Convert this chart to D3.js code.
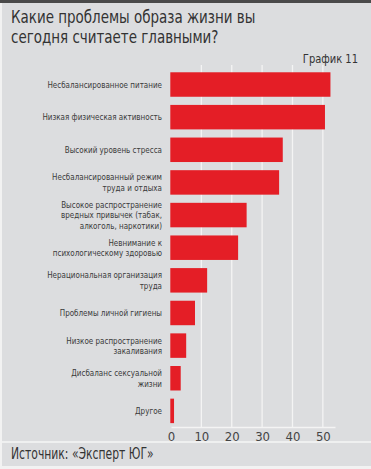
<!DOCTYPE html>
<html lang="ru">
<head>
<meta charset="utf-8" />
<title>График 11</title>
<style>
  body { margin: 0; background: #fff; }
  svg { display: block; }
  text { font-family: "DejaVu Sans Condensed", "Liberation Sans Narrow", "Roboto", sans-serif; }
</style>
</head>
<body>
<script src="https://cdn.jsdelivr.net/npm/d3@7"></script>
<div id="chart"></div>
<script>
    // data (share of answers, %)
    const categories = [
        ["Несбалансированное питание"],
        ["Низкая физическая активность"],
        ["Высокий уровень стресса"],
        ["Несбалансированный режим", "труда и отдыха"],
        ["Высокое распространение", "вредных привычек (табак,", "алкоголь, наркотики)"],
        ["Невнимание к", "психологическому здоровью"],
        ["Нерациональная организация", "труда"],
        ["Проблемы личной гигиены"],
        ["Низкое распространение", "закаливания"],
        ["Дисбаланс сексуальной", "жизни"],
        ["Другое"]
    ];
    const values = [52.5, 50.7, 36.8, 35.6, 24.9, 22.1, 11.9, 7.9, 5.0, 3.2, 1.0];
    const xTicks = [0, 10, 20, 30, 40, 50];

    const width = 371, height = 469;

    const svg = d3.select("#chart")
        .append("svg")
        .attr("width", width)
        .attr("height", height);

    // background + frame
    svg.append("rect").attr("width", width).attr("height", height).attr("fill", "#f2f2f2");
    svg.append("rect").attr("x", 2).attr("y", 3).attr("width", width - 2).attr("height", height - 6)
        .attr("fill", "#dcdddf");
    svg.append("rect").attr("width", width).attr("height", 3).attr("fill", "#4a4a4a");

    // title (the original face is narrow, so squeeze it horizontally)
    svg.append("g")
        .attr("transform", "translate(11,0) scale(0.88,1)")
        .append("text")
        .style("font-size", "17px")
        .attr("fill", "#333")
        .selectAll("tspan")
        .data(["Какие проблемы образа жизни вы", "сегодня считаете главными?"])
        .join("tspan")
        .attr("x", 0)
        .attr("y", (d, i) => 23 + i * 20)
        .text(d => d);

    svg.append("g")
        .attr("transform", "translate(358,63) scale(0.85,1)")
        .append("text")
        .attr("text-anchor", "end")
        .style("font-size", "13px")
        .attr("fill", "#333")
        .text("График 11");

    const x = d3.scaleLinear().domain([0, 54]).range([171, 335]);
    const y = d3.scaleBand()
        .domain(d3.range(categories.length))
        .range([68.2, 427.2])
        .paddingInner(0.25)
        .paddingOuter(0.125);

    // gridlines
    svg.append("g")
        .selectAll("line")
        .data(xTicks.slice(1))
        .join("line")
        .attr("x1", d => x(d)).attr("x2", d => x(d))
        .attr("y1", 65).attr("y2", 427)
        .attr("stroke", "#f4f4f4")
        .attr("stroke-width", 1.3);

    // bars
    svg.append("g")
        .selectAll("rect")
        .data(values)
        .join("rect")
        .attr("x", x(0) - 0.7)
        .attr("y", (d, i) => y(i))
        .attr("width", d => x(d) - x(0) + 0.7)
        .attr("height", y.bandwidth())
        .attr("fill", "#e41e26");

    // category labels
    const lineH = 10.6;
    svg.append("g")
        .selectAll("g")
        .data(categories)
        .join("g")
        .attr("transform", (lines, i) => {
            const cy = y(i) + y.bandwidth() / 2;
            const y0 = cy - (lines.length - 1) * lineH / 2 + 3.3;
            return `translate(162,${y0}) scale(0.84,1)`;
        })
        .append("text")
        .attr("text-anchor", "end")
        .style("font-size", "9.5px")
        .attr("fill", "#3a3a3a")
        .selectAll("tspan")
        .data(d => d)
        .join("tspan")
        .attr("x", 0)
        .attr("y", (d, j) => j * lineH)
        .text(d => d);

    // x axis
    const axis = svg.append("g")
        .attr("transform", "translate(0,427)")
        .call(d3.axisBottom(x).tickValues(xTicks).tickSize(0).tickPadding(5));
    axis.select(".domain").attr("stroke", "#f4f4f4").attr("stroke-width", 1.3);
    axis.selectAll("text")
        .style("font-size", "13px")
        .style("font-family", "\"DejaVu Sans Condensed\", \"Liberation Sans Narrow\", sans-serif")
        .attr("fill", "#444");

    // source strip
    svg.append("line")
        .attr("x1", 2).attr("x2", width)
        .attr("y1", 442).attr("y2", 442)
        .attr("stroke", "#f6f6f6")
        .attr("stroke-width", 1.5);
    svg.append("g")
        .attr("transform", "translate(11,459) scale(0.8,1)")
        .append("text")
        .style("font-size", "15px")
        .attr("fill", "#333")
        .text("Источник: «Эксперт ЮГ»");
</script>
</body>
</html>
